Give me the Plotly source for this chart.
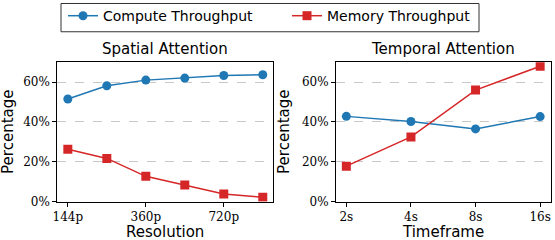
import plotly.graph_objects as go

resolutions = ["144p", "240p", "360p", "480p", "720p", "1080p"]
res_tick_labels = ["144p", "360p", "720p"]
spatial_compute = [51.5, 58.2, 61.0, 62.0, 63.3, 63.7]
spatial_memory = [26.3, 21.7, 12.7, 8.3, 3.8, 2.2]

timeframes = ["2s", "4s", "8s", "16s"]
temporal_compute = [42.8, 40.2, 36.5, 42.7]
temporal_memory = [17.8, 32.5, 56.0, 68.0]

pct_vals = [0, 20, 40, 60]
pct_labels = ["0%", "20%", "40%", "60%"]

BLUE = "#1f77b4"
RED = "#d62728"
W, H = 555, 240

fig = go.Figure()

def add(xs, ys, name, color, symbol, xa, ya, show):
    fig.add_trace(go.Scatter(
        x=list(range(len(xs))), y=ys, name=name, mode="lines+markers",
        line=dict(color=color, width=1.5),
        marker=dict(color=color, symbol=symbol, size=9),
        xaxis=xa, yaxis=ya, showlegend=show))

add(resolutions, spatial_compute, "Compute Throughput", BLUE, "circle", "x", "y", True)
add(resolutions, spatial_memory, "Memory Throughput", RED, "square", "x", "y", True)
add(timeframes, temporal_compute, "Compute Throughput", BLUE, "circle", "x2", "y2", False)
add(timeframes, temporal_memory, "Memory Throughput", RED, "square", "x2", "y2", False)

tickfont = dict(family="DejaVu Serif", size=12, color="black")
common_x = dict(showline=True, linecolor="black", linewidth=1, mirror=True,
                ticks="outside", ticklen=4, tickcolor="black", tickfont=tickfont,
                showgrid=False, zeroline=False, automargin=False)
common_y = dict(showline=True, linecolor="black", linewidth=1, mirror=True,
                ticks="outside", ticklen=4, tickcolor="black", tickfont=tickfont,
                range=[0, 70], tickmode="array", tickvals=pct_vals, ticktext=pct_labels,
                showgrid=True, gridcolor="#c8c8c8", griddash="dash", gridwidth=0.8,
                zeroline=False, automargin=False)

y0, y1 = 1 - 201.3 / H, 1 - 60.7 / H
fig.update_layout(
    width=W, height=H, margin=dict(l=0, r=0, t=0, b=0),
    paper_bgcolor="white", plot_bgcolor="white",
    font=dict(family="DejaVu Sans", color="black"),
    xaxis=dict(common_x, domain=[57.3 / W, 273.3 / W], range=[-0.27, 5.27],
               tickmode="array",
               tickvals=[resolutions.index(t) for t in res_tick_labels], ticktext=res_tick_labels),
    yaxis=dict(common_y, domain=[y0, y1], anchor="x"),
    xaxis2=dict(common_x, domain=[336 / W, 550.5 / W], range=[-0.16, 3.16],
                tickmode="array",
                tickvals=list(range(len(timeframes))), ticktext=timeframes, anchor="y2"),
    yaxis2=dict(common_y, domain=[y0, y1], anchor="x2"),
    legend=dict(orientation="h", x=63 / W, xanchor="left", y=1.008, yanchor="top",
                borderwidth=0, bgcolor="rgba(0,0,0,0)",
                font=dict(family="DejaVu Sans", size=14), entrywidth=179),
    showlegend=True,
)

fig.add_shape(type="rect", xref="paper", yref="paper",
              x0=61 / W, x1=479 / W, y0=1 - 30 / H, y1=1 - 1.5 / H,
              line=dict(color="#333", width=1), fillcolor="rgba(0,0,0,0)", layer="below")

ann = [
    dict(text="Spatial Attention", x=(57.3 + 273.3) / 2 / W, y=1 - 47 / H, size=15),
    dict(text="Temporal Attention", x=(336 + 550.5) / 2 / W, y=1 - 47 / H, size=15),
    dict(text="Resolution", x=(57.3 + 273.3) / 2 / W, y=1 - 231.5 / H, size=15),
    dict(text="Timeframe", x=(336 + 550.5) / 2 / W, y=1 - 231.5 / H, size=15),
]
for a in ann:
    fig.add_annotation(text=a["text"], x=a["x"], y=a["y"], xref="paper", yref="paper",
                       showarrow=False, xanchor="center", yanchor="middle",
                       font=dict(family="DejaVu Sans", size=a["size"], color="black"))
for xp in (8 / W, 284 / W):
    fig.add_annotation(text="Percentage", x=xp, y=(y0 + y1) / 2, xref="paper", yref="paper",
                       showarrow=False, textangle=-90, xanchor="center", yanchor="middle",
                       font=dict(family="DejaVu Sans", size=15, color="black"))

fig.write_html("out.html", config={"displayModeBar": False},
               post_script="document.body.style.margin='0px';")
